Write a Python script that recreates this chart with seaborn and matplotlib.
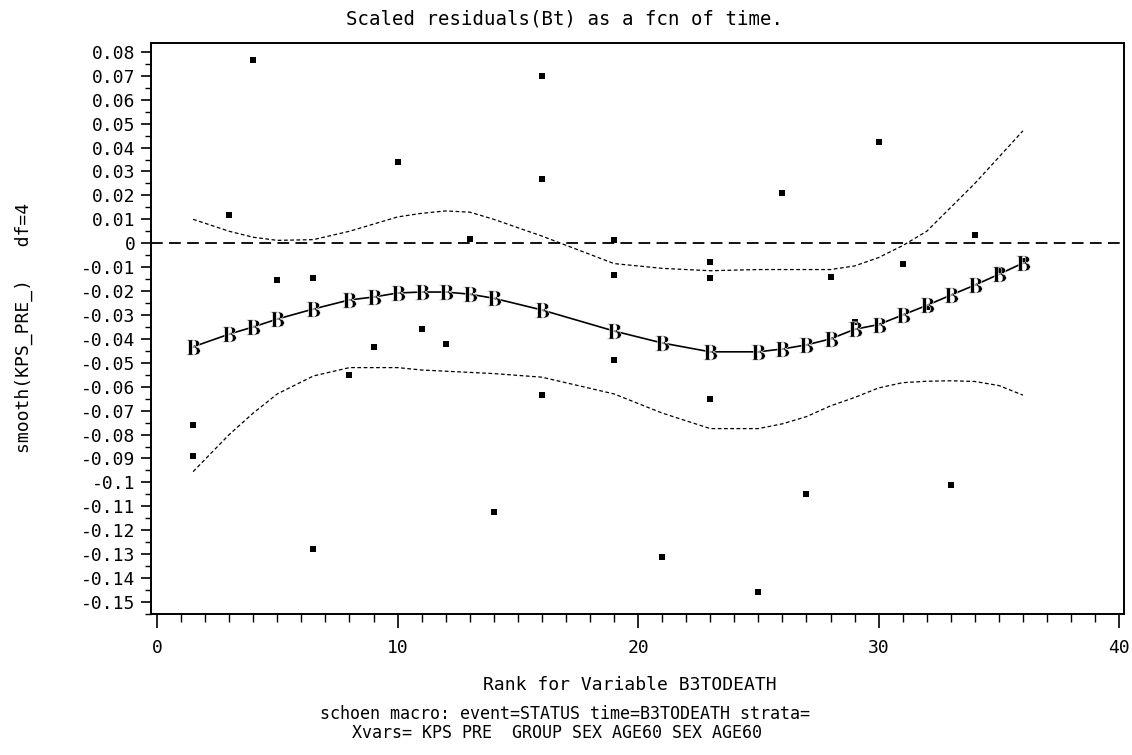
import numpy as np
import matplotlib
matplotlib.use("Agg")
import matplotlib.pyplot as plt
import seaborn as sns

# smoothed curve (B markers) evaluated at each rank
smooth_rank = [1.5, 3, 4, 5, 6.5, 8, 9, 10, 11, 12, 13, 14, 16, 19, 21, 23,
               25, 26, 27, 28, 29, 30, 31, 32, 33, 34, 35, 36]
smooth_val = [-0.0433, -0.038, -0.035, -0.0317, -0.0275, -0.0237, -0.0225,
              -0.0208, -0.0204, -0.0204, -0.0213, -0.023, -0.0279, -0.0367,
              -0.0417, -0.0454, -0.0454, -0.0442, -0.0425, -0.040, -0.036,
              -0.034, -0.030, -0.026, -0.0217, -0.0175, -0.013, -0.0083]

# confidence band
upper_band = [0.010, 0.005, 0.0025, 0.0012, 0.0015, 0.005, 0.008, 0.011,
              0.0125, 0.0135, 0.013, 0.010, 0.003, -0.0085, -0.0105, -0.0115,
              -0.011, -0.011, -0.011, -0.011, -0.0095, -0.006, -0.001, 0.005,
              0.015, 0.025, 0.036, 0.047]
lower_band = [-0.0955, -0.080, -0.071, -0.063, -0.0555, -0.052, -0.052,
              -0.052, -0.053, -0.0535, -0.054, -0.0545, -0.056, -0.063,
              -0.071, -0.0775, -0.0775, -0.0755, -0.0725, -0.068, -0.0645,
              -0.0605, -0.0583, -0.0577, -0.0575, -0.0578, -0.0595, -0.0635]

# scaled Schoenfeld residuals
resid_rank = [1.5, 1.5, 3, 4, 5, 6.5, 6.5, 8, 9, 10, 11, 12, 13, 14, 16, 16,
              16, 19, 19, 19, 21, 23, 23, 23, 25, 26, 27, 28, 29, 30, 31, 32,
              33, 34, 35, 36]
resid_val = [-0.076, -0.089, 0.0117, 0.0767, -0.0154, -0.0146, -0.128, -0.055,
             -0.0433, 0.034, -0.0358, -0.042, 0.0017, -0.1125, 0.070, 0.027,
             -0.0633, 0.0013, -0.0133, -0.049, -0.131, -0.008, -0.0146, -0.065,
             -0.146, 0.021, -0.105, -0.014, -0.033, 0.0425, -0.0088, -0.0265,
             -0.101, 0.0033, -0.011, -0.0075]

y_ticks = [round(v, 2) for v in np.arange(-0.15, 0.0801, 0.01)]
y_labels = [f"{v:g}" for v in y_ticks]
x_ticks = [0, 10, 20, 30, 40]

sns.set_style("ticks")
plt.rcParams["font.family"] = ["DejaVu Sans Mono"]
plt.rcParams["mathtext.fontset"] = "stix"
plt.rcParams["text.color"] = "black"
plt.rcParams["xtick.color"] = "black"
plt.rcParams["ytick.color"] = "black"
plt.rcParams["axes.edgecolor"] = "black"

fig = plt.figure(figsize=(11.32, 7.55), dpi=100)
ax = fig.add_axes([0.1334, 0.1868, 0.8595, 0.7562])

ax.axhline(0, color="black", lw=1.3, linestyle=(0, (6.5, 3.5)))
sns.lineplot(x=smooth_rank, y=upper_band, ax=ax, color="black", lw=0.9,
             linestyle=(0, (3, 2)), estimator=None, sort=False)
sns.lineplot(x=smooth_rank, y=lower_band, ax=ax, color="black", lw=0.9,
             linestyle=(0, (3, 2)), estimator=None, sort=False)
sns.scatterplot(x=resid_rank, y=resid_val, ax=ax, color="black", marker="s",
                s=13, linewidth=0)
sns.lineplot(x=smooth_rank, y=smooth_val, ax=ax, color="black", lw=1.2,
             marker=r"$\mathbf{B}$", markersize=11, markeredgewidth=0.4,
             estimator=None, sort=False)

ax.set_xlim(-0.25, 40.2)
ax.set_ylim(-0.1537, 0.0837)
ax.set_xticks(x_ticks)
ax.set_xticks(np.arange(0, 41, 1), minor=True)
ax.set_yticks(y_ticks, y_labels)
ax.set_yticks(np.arange(-0.155, 0.085, 0.005), minor=True)
ax.tick_params(axis="x", which="major", length=10, width=1.2, pad=8, labelsize=13)
ax.tick_params(axis="x", which="minor", length=6, width=1.0)
ax.tick_params(axis="y", which="major", length=7, width=1.2, pad=4, labelsize=13)
ax.tick_params(axis="y", which="minor", length=4, width=1.0)
for side in ax.spines.values():
    side.set_visible(True)
    side.set_linewidth(1.4)

fig.text(0.499, 0.975, "Scaled residuals(Bt) as a fcn of time.",
         ha="center", va="center", fontsize=13.7)
fig.text(0.556, 0.093, "Rank for Variable B3TODEATH",
         ha="center", va="center", fontsize=13)
fig.text(0.021, 0.566, "smooth(KPS_PRE_)   df=4", rotation=90,
         ha="center", va="center", fontsize=13)
fig.text(0.499, 0.054, "schoen macro: event=STATUS time=B3TODEATH strata=",
         ha="center", va="center", fontsize=12)
fig.text(0.492, 0.029, "Xvars= KPS PRE  GROUP SEX AGE60 SEX AGE60",
         ha="center", va="center", fontsize=12)

fig.savefig("out.png", dpi=100)
